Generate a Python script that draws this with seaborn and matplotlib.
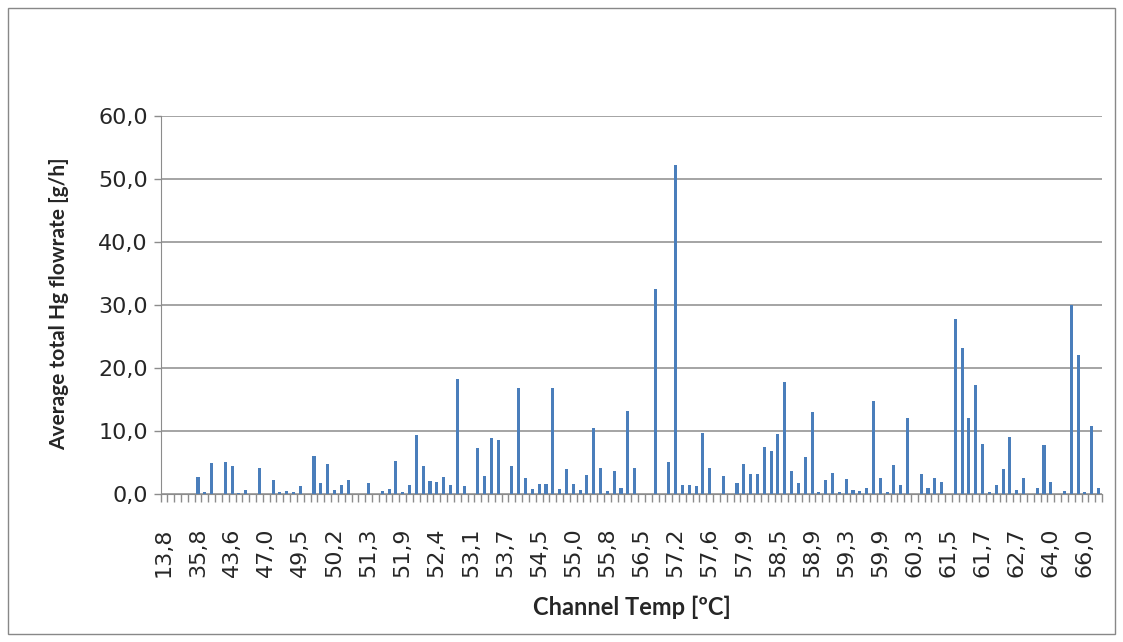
import matplotlib.pyplot as plt
from matplotlib.patches import Rectangle
import seaborn as sns
import pandas as pd
import numpy as np

# labels shown on the category axis (every 5th channel temp)
tick_labels = ['13,8', '35,8', '43,6', '47,0', '49,5', '50,2', '51,3', '51,9', '52,4', '53,1',
               '53,7', '54,5', '55,0', '55,8', '56,5', '57,2', '57,6', '57,9', '58,5', '58,9',
               '59,3', '59,9', '60,3', '61,5', '61,7', '62,7', '64,0', '66,0']

# average total Hg flowrate [g/h], one value per channel temp category
flowrate = [0, 0, 0, 0, 0, 2.7, 0.3, 4.9, 0, 5.1,
            4.5, 0.2, 0.6, 0, 4.2, 0, 2.2, 0.3, 0.4, 0.3,
            1.2, 0, 6.1, 1.7, 4.7, 0.6, 1.4, 2.2, 0, 0,
            1.7, 0, 0.5, 0.8, 5.3, 0.3, 1.5, 9.3, 4.4, 2.0,
            1.9, 2.7, 1.5, 18.3, 1.2, 0, 7.3, 2.8, 8.9, 8.5,
            0, 4.4, 16.9, 2.6, 0.8, 1.6, 1.6, 16.9, 0.8, 4.0,
            1.6, 0.6, 3.0, 10.5, 4.2, 0.5, 3.6, 1.0, 13.2, 4.2,
            0, 0, 32.5, 0, 5.1, 52.3, 1.4, 1.4, 1.2, 9.7,
            4.2, 0, 2.8, 0, 1.7, 4.8, 3.2, 3.2, 7.5, 6.8,
            9.6, 17.7, 3.6, 1.7, 5.8, 13.0, 0.3, 2.2, 3.4, 0.3,
            2.4, 0.6, 0.5, 1.0, 14.8, 2.6, 0.3, 4.6, 1.4, 12.0,
            0, 3.2, 1.0, 2.5, 1.9, 0, 27.7, 23.2, 12.0, 17.3,
            7.9, 0.3, 1.4, 3.9, 9.1, 0.6, 2.5, 0, 1.0, 7.7,
            1.9, 0, 0.4, 30.0, 22.1, 0.3, 10.8, 0.9]

y_ticks = [0, 10, 20, 30, 40, 50, 60]

grey = '#8c8c8c'

sns.set_style('white')
plt.rcParams['font.family'] = ['DejaVu Sans']

fig = plt.figure(figsize=(11.23, 6.42), dpi=100)
ax = fig.add_axes([160.5/1123, 1 - 494/642, 941.5/1123, 378/642])

df = pd.DataFrame({'pos': np.arange(len(flowrate)), 'flow': flowrate})
sns.barplot(data=df, x='pos', y='flow', color='#4a7ebb', saturation=1,
            width=0.45, linewidth=0, ax=ax)

ax.set_xlim(-0.5, len(flowrate) - 0.5)
ax.set_ylim(0, 60)

#y axis
ax.set_yticks(y_ticks)
ax.set_yticklabels([('%.1f' % v).replace('.', ',') for v in y_ticks])
ax.yaxis.grid(True, color=grey, lw=1.1)
ax.set_axisbelow(True)
ax.tick_params(axis='y', left=True, length=5, width=1, color=grey,
               labelsize=16, pad=4)

#x axis: labels every 5th category, tick marks between categories
ax.set_xticks(range(0, len(flowrate), 5))
ax.set_xticklabels(tick_labels, rotation=90)
ax.set_xticks(np.arange(-0.5, len(flowrate), 1), minor=True)
ax.tick_params(axis='x', which='major', length=0, labelsize=16, pad=24)
ax.tick_params(axis='x', which='minor', bottom=True, length=6, width=1, color=grey)

sns.despine(ax=ax)
ax.spines['left'].set_color(grey)
ax.spines['bottom'].set_color(grey)

ax.set_xlabel('Channel Temp [ºC]', fontsize=17, fontweight='bold', family='Lato')
ax.set_ylabel('Average total Hg flowrate [g/h]', fontsize=15, fontweight='bold', family='Lato')
ax.xaxis.set_label_coords(0.501, -0.27)
ax.yaxis.set_label_coords(-0.097, 0.503)

# chart area border
fig.patches.append(Rectangle((8/1123, 8/642), 1107/1123, 626/642, fill=False,
                             ec='#888888', lw=1, transform=fig.transFigure))

fig.savefig('out.png', dpi=100)
